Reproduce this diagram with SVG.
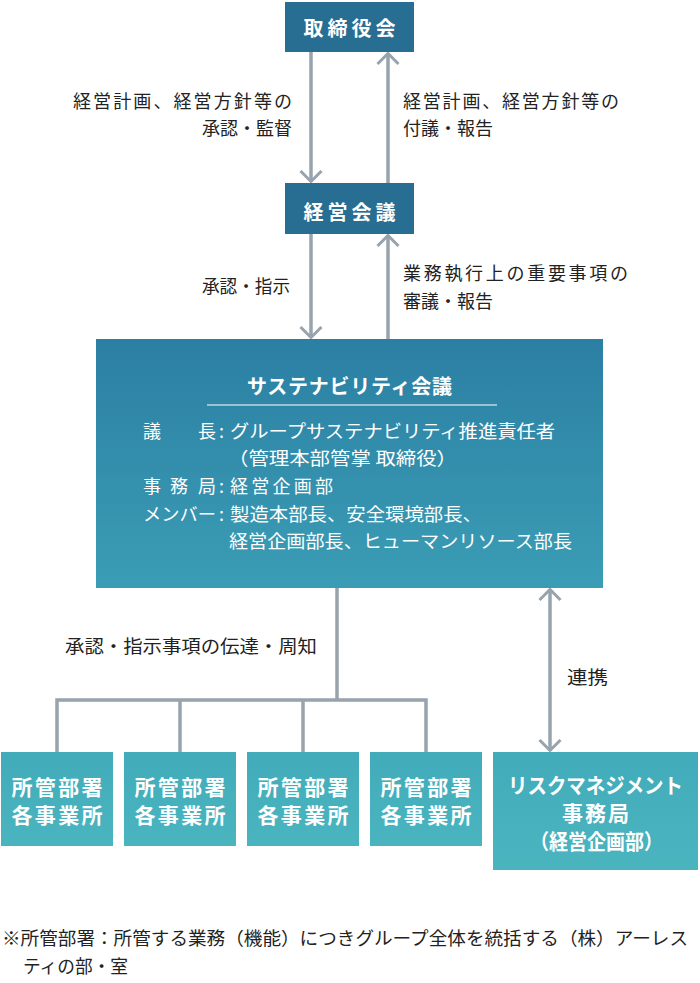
<svg xmlns="http://www.w3.org/2000/svg" width="700" height="983" viewBox="0 0 700 983">
<style>
text{font-family:"Noto Sans CJK JP","Noto Sans",sans-serif;}
.lbl{font-size:18px;fill:#222;}
.hd{font-size:20px;font-weight:bold;fill:#fff;}
.bx{font-size:21px;font-weight:bold;fill:#fff;}
.in{font-size:18px;fill:#fff;}
.con{stroke:#97a3ad;stroke-width:3.5;fill:none;}
.dark{fill:#286e93;}
</style>
<defs>
<linearGradient id="gSus" x1="0" y1="0" x2="0" y2="1"><stop offset="0" stop-color="#2b7fa3"/><stop offset="1" stop-color="#3b9db5"/></linearGradient>
<linearGradient id="gLt" x1="0" y1="0" x2="0" y2="1"><stop offset="0" stop-color="#42abba"/><stop offset="1" stop-color="#4ab5bf"/></linearGradient>
<marker id="ah" viewBox="0 0 14 24" markerWidth="14" markerHeight="24" markerUnits="userSpaceOnUse" refX="12.5" refY="12" orient="auto-start-reverse">
<path d="M1.5,1.5 L12,12 L1.5,22.5" fill="none" stroke="#97a3ad" stroke-width="3"/>
</marker>
</defs>

<g id="connectors">
<line class="con" x1="311" y1="52" x2="311" y2="182" marker-end="url(#ah)"/>
<line class="con" x1="388" y1="183" x2="388" y2="53" marker-end="url(#ah)"/>
<line class="con" x1="311" y1="234" x2="311" y2="338" marker-end="url(#ah)"/>
<line class="con" x1="388" y1="339" x2="388" y2="235" marker-end="url(#ah)"/>
<line class="con" x1="337" y1="588" x2="337" y2="700"/>
<polyline class="con" points="57,752 57,700 426,700 426,752"/>
<line class="con" x1="180" y1="700" x2="180" y2="752"/>
<line class="con" x1="303" y1="700" x2="303" y2="752"/>
<line class="con" x1="550" y1="589" x2="550" y2="751" marker-start="url(#ah)" marker-end="url(#ah)"/>
<text class="lbl" x="292" y="108" text-anchor="end" textLength="219" lengthAdjust="spacing">経営計画、経営方針等の</text>
<text class="lbl" x="292" y="135" text-anchor="end" textLength="90" lengthAdjust="spacingAndGlyphs">承認・監督</text>
<text class="lbl" x="403" y="108" textLength="216" lengthAdjust="spacing">経営計画、経営方針等の</text>
<text class="lbl" x="403" y="135" textLength="90" lengthAdjust="spacingAndGlyphs">付議・報告</text>
<text class="lbl" x="290" y="293" text-anchor="end" textLength="88" lengthAdjust="spacingAndGlyphs">承認・指示</text>
<text class="lbl" x="403" y="280" textLength="225" lengthAdjust="spacing">業務執行上の重要事項の</text>
<text class="lbl" x="403" y="308" textLength="90" lengthAdjust="spacingAndGlyphs">審議・報告</text>
<text class="lbl" x="65" y="653" textLength="252" lengthAdjust="spacingAndGlyphs">承認・指示事項の伝達・周知</text>
<text class="lbl" x="567" y="684" textLength="41" lengthAdjust="spacingAndGlyphs">連携</text>
</g>

<g id="board">
<rect class="dark" x="285" y="2" width="129" height="50"/>
<text class="hd" x="349.5" y="36" text-anchor="middle" textLength="92" lengthAdjust="spacing">取締役会</text>
</g>

<g id="mgmt">
<rect class="dark" x="285" y="183" width="129" height="51"/>
<text class="hd" x="349.5" y="220" text-anchor="middle" textLength="92" lengthAdjust="spacing">経営会議</text>
</g>

<g id="sustainability">
<rect x="96" y="339" width="507" height="249" fill="url(#gSus)"/>
<text class="hd" x="349.5" y="394" text-anchor="middle" textLength="205" lengthAdjust="spacing">サステナビリティ会議</text>
<line x1="207" y1="405" x2="497" y2="405" stroke="#ffffff" stroke-width="1.2"/>
<text class="in" x="143" y="438">議</text>
<text class="in" x="198" y="438">長</text>
<text class="in" x="143" y="493">事</text>
<text class="in" x="170" y="493">務</text>
<text class="in" x="198" y="493">局</text>
<text class="in" x="143" y="521" textLength="73" lengthAdjust="spacingAndGlyphs">メンバー</text>
<text class="in" x="219" y="438">:</text>
<text class="in" x="219" y="493">:</text>
<text class="in" x="219" y="521">:</text>
<text class="in" x="230" y="438" textLength="325" lengthAdjust="spacingAndGlyphs">グループサステナビリティ推進責任者</text>
<text class="in" x="228" y="465" textLength="229" lengthAdjust="spacingAndGlyphs">（管理本部管掌 取締役）</text>
<text class="in" x="230" y="493" textLength="103" lengthAdjust="spacing">経営企画部</text>
<text class="in" x="230" y="521" textLength="252" lengthAdjust="spacingAndGlyphs">製造本部長、安全環境部長、</text>
<text class="in" x="229" y="548" textLength="343" lengthAdjust="spacingAndGlyphs">経営企画部長、ヒューマンリソース部長</text>
</g>

<g id="dept1">
<rect x="1" y="752" width="112" height="94" fill="url(#gLt)"/>
<text class="bx" x="57" y="795" text-anchor="middle" textLength="91" lengthAdjust="spacing">所管部署</text>
<text class="bx" x="57" y="823" text-anchor="middle" textLength="91" lengthAdjust="spacing">各事業所</text>
</g>
<g id="dept2">
<rect x="124" y="752" width="112" height="94" fill="url(#gLt)"/>
<text class="bx" x="180" y="795" text-anchor="middle" textLength="91" lengthAdjust="spacing">所管部署</text>
<text class="bx" x="180" y="823" text-anchor="middle" textLength="91" lengthAdjust="spacing">各事業所</text>
</g>
<g id="dept3">
<rect x="247" y="752" width="112" height="94" fill="url(#gLt)"/>
<text class="bx" x="303" y="795" text-anchor="middle" textLength="91" lengthAdjust="spacing">所管部署</text>
<text class="bx" x="303" y="823" text-anchor="middle" textLength="91" lengthAdjust="spacing">各事業所</text>
</g>
<g id="dept4">
<rect x="370" y="752" width="112" height="94" fill="url(#gLt)"/>
<text class="bx" x="426" y="795" text-anchor="middle" textLength="91" lengthAdjust="spacing">所管部署</text>
<text class="bx" x="426" y="823" text-anchor="middle" textLength="91" lengthAdjust="spacing">各事業所</text>
</g>
<g id="risk">
<rect x="493" y="752" width="205" height="118" fill="url(#gLt)"/>
<text class="bx" x="595.5" y="793" text-anchor="middle" textLength="175" lengthAdjust="spacingAndGlyphs">リスクマネジメント</text>
<text class="bx" x="595.5" y="821" text-anchor="middle" textLength="67" lengthAdjust="spacing">事務局</text>
<text class="bx" x="596.5" y="849" text-anchor="middle" textLength="133" lengthAdjust="spacingAndGlyphs">（経営企画部）</text>
</g>

<g id="footnote">
<text class="lbl" x="2" y="945" textLength="686" lengthAdjust="spacingAndGlyphs">※所管部署：所管する業務（機能）につきグループ全体を統括する（株）アーレス</text>
<text class="lbl" x="23" y="973" textLength="105" lengthAdjust="spacingAndGlyphs">ティの部・室</text>
</g>
</svg>
